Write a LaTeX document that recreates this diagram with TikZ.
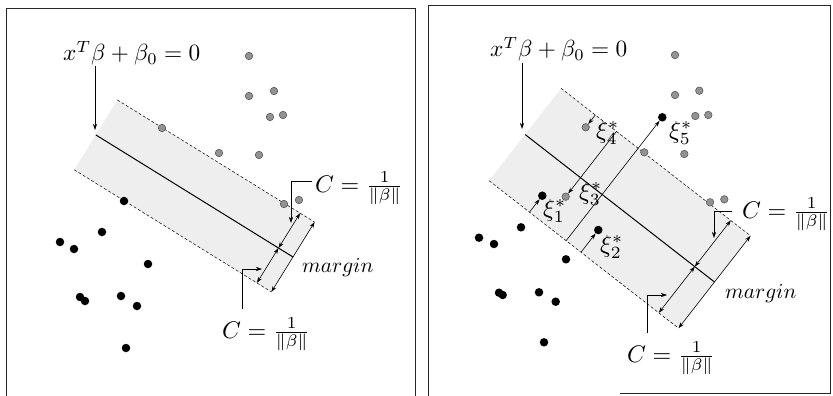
\documentclass[tikz,border=0pt]{standalone}
\usepackage{graphicx}
\usetikzlibrary{arrows.meta}
\newcommand{\eqtxt}{\scalebox{2.33}{$x^T\beta+\beta_0=0$}}
\newcommand{\ctxt}{\scalebox{2.40}{$C=\frac{1}{\|\beta\|}$}}
\newcommand{\mtxt}{\scalebox{2.13}{$margin$}}
\newcommand{\xitxt}[1]{\scalebox{2.45}{$\xi_{#1}^*$}}
\begin{document}
\begin{tikzpicture}[x=1pt,y=-1pt,
  frame/.style={draw=black!85, line width=0.9pt},
  band/.style={fill=gray!13},
  marg/.style={dashed, dash pattern=on 3pt off 2pt, line width=0.5pt},
  hyper/.style={line width=1pt},
  tip/.style={-{Stealth[length=6pt,width=4pt]}, line width=0.6pt},
  dtip/.style={{Stealth[length=6pt,width=4pt]}-{Stealth[length=6pt,width=4pt]}, line width=0.6pt},
  gpt/.style={circle, fill=gray!85, draw=black!65, line width=0.6pt, inner sep=0pt, minimum size=7.5pt},
  bpt/.style={circle, fill=black, inner sep=0pt, minimum size=8.5pt},
  lab/.style={inner sep=0pt, anchor=base west, font=\fontsize{10}{12}\selectfont},
  xilab/.style={inner sep=0pt, anchor=west, font=\fontsize{10}{12}\selectfont}]
\useasboundingbox (0,0) rectangle (833,396);

% frames
\draw[frame] (6,396) -- (6,8) -- (415.5,8) -- (415.5,396);
\draw[frame] (428,396) -- (428,5) -- (830.5,5) -- (830.5,393) -- (620,393);

%% ---------------- LEFT PANEL ----------------
\coordinate (LE0) at (293,257);
\coordinate (LUE) at (314.6,222.1);
\coordinate (LLE) at (271.4,291.9);
\coordinate (LS) at (95.8,134.9);
\coordinate (LUS) at (117.4,100.0);
\coordinate (LLS) at (74.2,169.8);
\coordinate (LIM) at (278.5,248.05);
\coordinate (LIU) at (300.1,213.2);
\coordinate (LIL) at (256.9,282.9);

\fill[band] (LUS) -- (LUE) -- (LLE) -- (LLS) -- cycle;
\draw[marg] (LUS) -- (LUE);
\draw[marg] (LLS) -- (LLE);
\draw[hyper] (LS) -- (LE0);
\draw[dtip] (LUE) -- (LLE);
\draw[dtip] (LIU) -- (LIM);
\draw[dtip] (LIM) -- (LIL);

\node[lab] (Leq) at (63,61) {\eqtxt};
\coordinate (La0) at (95,66);
\coordinate (La1) at (95,130);
\draw[tip] (La0) -- (La1);

\node[lab] (LCu) at (315,192) {\ctxt};
\coordinate (Lc1) at (312,181);
\coordinate (Lc2) at (291,181);
\coordinate (Lc3) at (291,223);
\draw[tip] (Lc1) -- (Lc2) -- (Lc3);

\node[lab] (LCl) at (222,338) {\ctxt};
\coordinate (Ld1) at (242,309);
\coordinate (Ld2) at (242,269);
\coordinate (Ld3) at (262,269);
\draw[tip] (Ld1) -- (Ld2) -- (Ld3);

\node[lab] (Lm) at (302,272) {\mtxt};

% gray points
\foreach \p/\q [count=\i] in {249/56, 249/96, 274/91, 270/117, 283/115, 162/128, 219/153, 259/155, 284/204, 299/200}
  \node[gpt] (lg\i) at (\p,\q) {};
% black points
\foreach \p/\q [count=\i] in {124/201, 102/232, 60/242, 74/249, 148/264, 80/297, 85/301, 121/296, 137/306, 126/348}
  \node[bpt] (lb\i) at (\p,\q) {};

%% ---------------- RIGHT PANEL ----------------
\coordinate (RE0) at (714.5,282);
\coordinate (RUE) at (750.5,235.8);
\coordinate (RLE) at (678.5,328.2);
\coordinate (RS) at (525.1,134.5);
\coordinate (RUS) at (561.1,88.3);
\coordinate (RLS) at (489.1,180.7);
\coordinate (RIM) at (694.8,266.6);
\coordinate (RIU) at (730.8,220.4);
\coordinate (RIL) at (658.8,312.8);

\fill[band] (RUS) -- (RUE) -- (RLE) -- (RLS) -- cycle;
\draw[marg] (RUS) -- (RUE);
\draw[marg] (RLS) -- (RLE);
\draw[hyper] (RS) -- (RE0);
\draw[dtip] (RUE) -- (RLE);
\draw[dtip] (RIU) -- (RIM);
\draw[dtip] (RIM) -- (RIL);

\node[lab] (Req) at (490,57) {\eqtxt};
\coordinate (Ra0) at (522,63);
\coordinate (Ra1) at (522,129);
\draw[tip] (Ra0) -- (Ra1);

\node[lab] (RCu) at (742,218) {\ctxt};
\coordinate (Rc1) at (732,211);
\coordinate (Rc2) at (714,211);
\coordinate (Rc3) at (714,238);
\draw[tip] (Rc1) -- (Rc2) -- (Rc3);

\node[lab] (RCl) at (627,362) {\ctxt};
\coordinate (Rd1) at (647,333);
\coordinate (Rd2) at (647,295);
\coordinate (Rd3) at (667,295);
\draw[tip] (Rd1) -- (Rd2) -- (Rd3);

\node[lab] (Rm) at (725,298) {\mtxt};

% gray points
\foreach \p/\q [count=\i] in {675/55, 675/95, 699.3/90.7, 695.3/116, 708.3/115, 644.3/152.3, 684.3/154, 710/202.3, 724.3/199.3}
  \node[gpt] (rg\i) at (\p,\q) {};
\node[gpt] (P4) at (585.7,127.3) {};
\node[gpt] (P3) at (565.7,196.7) {};
% black points
\foreach \p/\q [count=\i] in {521/227.3, 479/237.7, 494/244, 566/259.3, 499/292.7, 502.7/295, 539/292.3, 555.7/301.7, 544/342.3}
  \node[bpt] (rb\i) at (\p,\q) {};
\node[bpt] (P5) at (662.3,117.3) {};
\node[bpt] (P1) at (542.3,195.7) {};
\node[bpt] (P2) at (598.3,230) {};

% slack arrows
\coordinate (B1) at (529.5,212.1);
\coordinate (B2) at (581,252.2);
\coordinate (B3) at (616.5,131.4);
\coordinate (B4) at (595.3,115);
\coordinate (B5) at (566.2,240.6);
\draw[tip] (B1) -- (P1);
\draw[tip] (B2) -- (P2);
\draw[tip] (B3) -- (P3);
\draw[tip] (B4) -- (P4);
\draw[tip] (B5) -- (P5);

\node[xilab] (x4) at (596,133) {\xitxt{4}};
\node[xilab] (x5) at (669,133) {\xitxt{5}};
\node[xilab] (x3) at (579,194) {\xitxt{3}};
\node[xilab] (x1) at (543,211) {\xitxt{1}};
\node[xilab] (x2) at (600,247) {\xitxt{2}};
\end{tikzpicture}
\end{document}
